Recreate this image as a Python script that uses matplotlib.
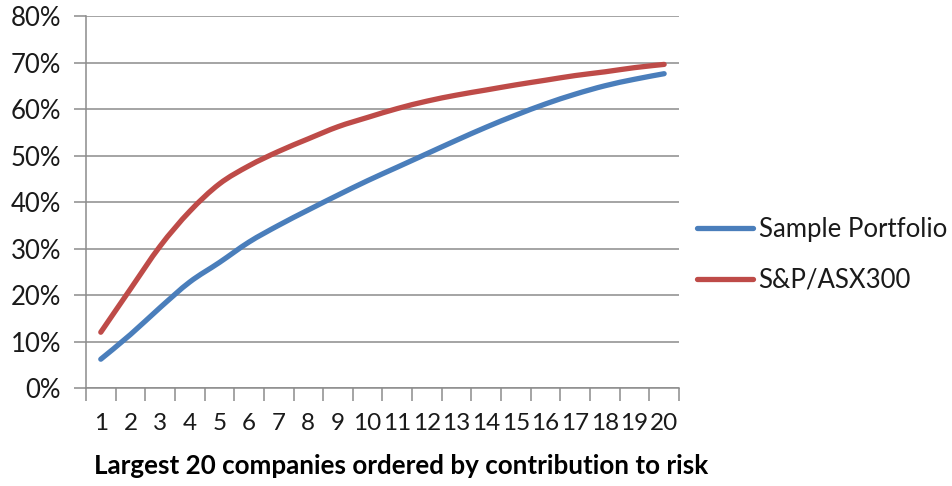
import matplotlib.pyplot as plt
from matplotlib.path import Path
from matplotlib.patches import PathPatch
from matplotlib.lines import Line2D
from matplotlib.ticker import FuncFormatter

# Cumulative share of portfolio risk from the largest 20 names
companies = list(range(1, 21))
sample_portfolio = [6.2, 11.5, 17.3, 22.8, 27.0, 31.4, 35.0, 38.3, 41.5, 44.6,
                    47.5, 50.4, 53.3, 56.1, 58.7, 61.1, 63.2, 65.0, 66.4, 67.6]
asx300 = [12.0, 21.3, 30.5, 38.0, 43.9, 47.8, 50.9, 53.6, 56.2, 58.2,
          60.1, 61.7, 63.0, 64.1, 65.2, 66.2, 67.2, 68.0, 68.9, 69.6]
y_ticks = [0, 10, 20, 30, 40, 50, 60, 70, 80]

BLUE = '#4A7EBB'
RED = '#BE4B48'
GREY = '#8C8C8C'

plt.rcParams['font.family'] = ['Lato', 'DejaVu Sans']


def smooth_path(xs, ys):
    # cubic bezier through the points (spreadsheet-style smoothed line)
    pts = list(zip(xs, ys))
    verts = [pts[0]]
    codes = [Path.MOVETO]
    for i in range(len(pts) - 1):
        p0 = pts[i - 1] if i > 0 else pts[i]
        p1 = pts[i]
        p2 = pts[i + 1]
        p3 = pts[i + 2] if i + 2 < len(pts) else pts[i + 1]
        c1 = (p1[0] + (p2[0] - p0[0]) / 6, p1[1] + (p2[1] - p0[1]) / 6)
        c2 = (p2[0] - (p3[0] - p1[0]) / 6, p2[1] - (p3[1] - p1[1]) / 6)
        verts += [c1, c2, p2]
        codes += [Path.CURVE4] * 3
    return Path(verts, codes)


fig = plt.figure(figsize=(9.52, 4.86), dpi=100)
ax = fig.add_axes([0.0903, 0.2016, 0.6229, 0.7654])

for values, color in [(sample_portfolio, BLUE), (asx300, RED)]:
    ax.add_patch(PathPatch(smooth_path(companies, values), facecolor='none',
                           edgecolor=color, lw=3.8, capstyle='round',
                           joinstyle='round', zorder=3))

# y axis: percent gridlines
ax.set_ylim(0, 80)
ax.set_yticks(y_ticks)
ax.yaxis.set_major_formatter(FuncFormatter(lambda v, p: f"{v:.0f}%"))
ax.grid(axis='y', color=GREY, lw=1.1)
ax.set_axisbelow(True)

# x axis: ticks between categories, labels at centres
ax.set_xlim(0.5, 20.5)
ax.set_xticks([i + 0.5 for i in range(0, 21)])
ax.set_xticklabels([])
ax.set_xticks(companies, minor=True)
ax.set_xticklabels([str(c) for c in companies], minor=True)
ax.tick_params(axis='x', which='minor', length=0, pad=18, labelsize=17.5,
               labelcolor='#1a1a1a')
ax.tick_params(axis='x', which='major', length=9, width=1.1, color=GREY)
ax.tick_params(axis='y', length=9, width=1.1, color=GREY, pad=9,
               labelsize=18.5, labelcolor='#1a1a1a')

for side in ['top', 'right']:
    ax.spines[side].set_visible(False)
for side in ['left', 'bottom']:
    ax.spines[side].set_color(GREY)
    ax.spines[side].set_linewidth(1.1)

fig.text(401 / 952, 1 - 466 / 486,
         "Largest 20 companies ordered by contribution to risk",
         ha='center', va='center', fontsize=18.7, fontweight='bold',
         color='black')

handles = [Line2D([], [], color=BLUE, lw=3.8, solid_capstyle='round'),
           Line2D([], [], color=RED, lw=3.8, solid_capstyle='round')]
ax.legend(handles, ['Sample Portfolio', 'S&P/ASX300'],
          loc='center left', bbox_to_anchor=(0.732, 0.475),
          bbox_transform=fig.transFigure, frameon=False, fontsize=18.5,
          handlelength=2.2, handletextpad=0.2, labelspacing=1.0,
          borderpad=0, borderaxespad=0, labelcolor='#1a1a1a')

fig.savefig("out.png", dpi=100)
